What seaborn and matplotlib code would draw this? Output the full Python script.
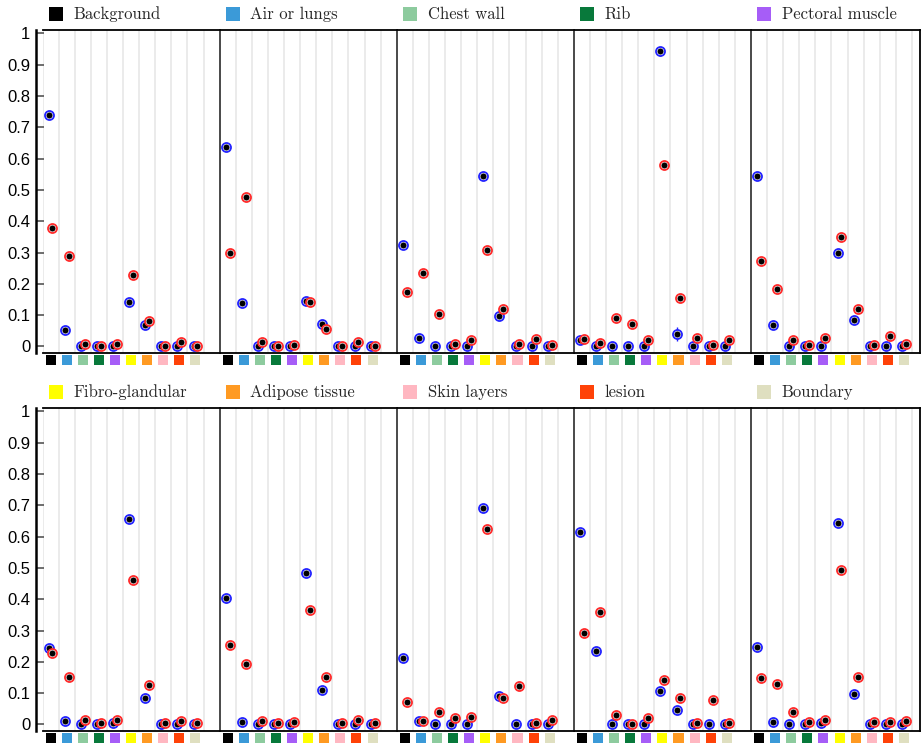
import numpy as np
import pandas as pd
import matplotlib
matplotlib.use("Agg")
import matplotlib.pyplot as plt
import matplotlib.transforms as mtransforms
from matplotlib.lines import Line2D
import seaborn as sns

classes = ["Background", "Air or lungs", "Chest wall", "Rib", "Pectoral muscle",
           "Fibro-glandular", "Adipose tissue", "Skin layers", "lesion", "Boundary"]
class_colors = ["#000000", "#3b9ad8", "#8dcb9e", "#08793b", "#a65df7",
                "#ffff00", "#ff9a22", "#ffb7c1", "#ff4208", "#dfdfc0"]

# one row per panel: top row = panels 0-4, bottom row = panels 5-9
blue_vals = [
    [0.739, 0.052, 0.000, 0.000, 0.000, 0.142, 0.068, 0.000, 0.000, 0.000],
    [0.637, 0.138, 0.000, 0.000, 0.000, 0.146, 0.073, 0.000, 0.000, 0.000],
    [0.325, 0.026, 0.000, 0.000, 0.000, 0.543, 0.098, 0.000, 0.000, 0.000],
    [0.020, 0.000, 0.000, 0.000, 0.000, 0.943, 0.039, 0.000, 0.002, 0.000],
    [0.545, 0.068, 0.000, 0.000, 0.000, 0.297, 0.085, 0.000, 0.000, 0.000],
    [0.245, 0.012, 0.000, 0.000, 0.003, 0.655, 0.085, 0.000, 0.000, 0.000],
    [0.403, 0.008, 0.000, 0.000, 0.000, 0.483, 0.110, 0.000, 0.000, 0.000],
    [0.212, 0.012, 0.000, 0.000, 0.000, 0.692, 0.090, 0.000, 0.000, 0.000],
    [0.615, 0.236, 0.000, 0.000, 0.000, 0.106, 0.045, 0.000, 0.000, 0.000],
    [0.248, 0.008, 0.000, 0.000, 0.003, 0.643, 0.098, 0.000, 0.000, 0.000],
]
red_vals = [
    [0.379, 0.289, 0.007, 0.000, 0.007, 0.227, 0.081, 0.000, 0.013, 0.000],
    [0.297, 0.477, 0.015, 0.000, 0.004, 0.142, 0.055, 0.000, 0.015, 0.000],
    [0.174, 0.236, 0.105, 0.007, 0.020, 0.309, 0.121, 0.007, 0.024, 0.004],
    [0.024, 0.011, 0.092, 0.072, 0.020, 0.580, 0.154, 0.028, 0.005, 0.020],
    [0.272, 0.183, 0.022, 0.005, 0.027, 0.350, 0.120, 0.003, 0.032, 0.007],
    [0.228, 0.153, 0.015, 0.003, 0.013, 0.460, 0.125, 0.004, 0.012, 0.003],
    [0.255, 0.192, 0.012, 0.003, 0.007, 0.367, 0.150, 0.004, 0.015, 0.003],
    [0.073, 0.012, 0.040, 0.020, 0.023, 0.623, 0.083, 0.122, 0.004, 0.015],
    [0.293, 0.358, 0.029, 0.000, 0.021, 0.142, 0.085, 0.003, 0.079, 0.003],
    [0.147, 0.130, 0.040, 0.007, 0.015, 0.493, 0.150, 0.007, 0.007, 0.010],
]
# (panel, class) -> half-width of the blue error bar
blue_err = {(0, 5): 0.012, (1, 0): 0.012, (3, 5): 0.015, (3, 6): 0.022,
            (6, 0): 0.014, (9, 5): 0.010}

series_style = [("blue", "#2222ff", -0.12), ("red", "#ff2a2a", 0.12)]

rows = []
for p in range(10):
    for k in range(10):
        for name, vals in (("blue", blue_vals), ("red", red_vals)):
            rows.append({"panel": p, "cls": k, "series": name, "value": vals[p][k]})
df = pd.DataFrame(rows)

sns.set_theme(style="white")
plt.rcParams["font.family"] = ["Liberation Sans", "DejaVu Sans"]
plt.rcParams["axes.formatter.use_mathtext"] = False

fig, axes = plt.subplots(
    2, 5, figsize=(9.24, 7.46), dpi=100, sharey=True,
    gridspec_kw={"width_ratios": [11, 11, 11, 11, 10.5]})
fig.subplots_adjust(left=0.046, right=0.9957, top=0.9598, bottom=0.0201,
                    wspace=0, hspace=0.1705)

yticks = np.round(np.arange(0, 1.01, 0.1), 1)
ylabels = ["0" if v == 0 else ("1" if v == 1 else f"{v:.1f}") for v in yticks]

for r in range(2):
    for c in range(5):
        p = r * 5 + c
        ax = axes[r, c]
        ax.set_xlim(-0.5, 10.5 if c < 4 else 10.0)
        ax.set_ylim(-0.021, 1.011)

        # light separators between class slots
        ax.set_xticks(np.arange(10) + 0.5, minor=True)
        ax.set_xticks([])
        ax.grid(which="minor", axis="x", color="#e9e9e9", lw=1.3, zorder=0)
        ax.tick_params(axis="x", which="both", length=0, labelbottom=False)

        for name, color, off in series_style:
            sub = df[(df.panel == p) & (df.series == name)].copy()
            sub["xpos"] = sub["cls"] + off
            if name == "blue":
                for (pp, k), e in blue_err.items():
                    if pp == p:
                        ax.errorbar(k + off, blue_vals[p][k], yerr=e, fmt="none",
                                    ecolor=color, elinewidth=1.0, capsize=0, zorder=2)
            sns.scatterplot(data=sub, x="xpos", y="value", facecolor="white",
                            edgecolor=color, s=42, linewidth=1.3, ax=ax, zorder=3,
                            legend=False)
            sns.scatterplot(data=sub, x="xpos", y="value", color="black", s=19,
                            linewidth=0, ax=ax, zorder=3, legend=False)
        ax.set_xlabel("")
        ax.set_ylabel("")

        # coloured class keys under each slot
        trans = mtransforms.blended_transform_factory(ax.transData, ax.transAxes)
        ax.scatter(np.arange(10), np.full(10, -0.022), marker="s", s=52,
                   c=class_colors, linewidths=0, transform=trans, clip_on=False,
                   zorder=5)

        for side in ["top", "bottom", "right", "left"]:
            ax.spines[side].set_visible(True)
            ax.spines[side].set_color("black")
            ax.spines[side].set_linewidth(1.3)
        if c < 4:
            ax.spines["right"].set_visible(False)
        if c > 0:
            ax.spines["left"].set_color("#3a3a3a")

        ax.set_yticks(yticks)
        if c == 0:
            ax.axvline(-0.5, color="#e9e9e9", lw=1.3, zorder=0)
            ax.spines["left"].set_position(("outward", 4.8))
            ax.spines["left"].set_linewidth(1.8)
            ax.set_yticklabels(ylabels)
            ax.tick_params(axis="y", direction="in", length=6, width=1.2,
                           color="#555555", left=True, labelleft=True,
                           labelsize=12, pad=4, labelcolor="black")
        else:
            ax.tick_params(axis="y", left=False, labelleft=False)

        handle = Line2D([], [], linestyle="none", marker="s", markersize=10,
                        markerfacecolor=class_colors[p], markeredgewidth=0)
        leg = ax.legend([handle], [classes[p]], loc="lower left",
                        bbox_to_anchor=(0.0, 1.008), frameon=False, borderpad=0.3,
                        borderaxespad=0.0, handlelength=1.0, handletextpad=0.55,
                        prop={"family": ["cmr10"], "size": 12})

fig.savefig("out.png", dpi=100)
